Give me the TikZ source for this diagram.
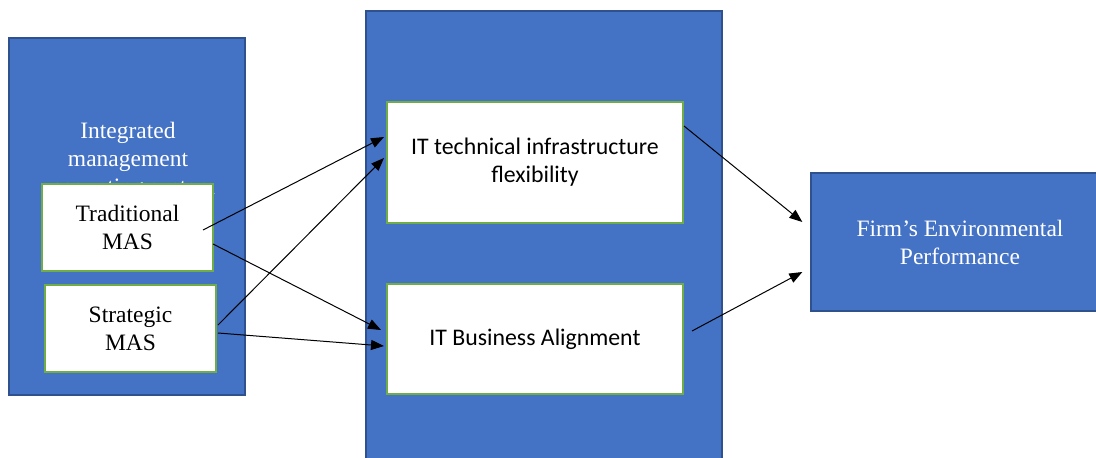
\documentclass[tikz,border=0pt]{standalone}
\usepackage{fontspec}
\setmainfont{Liberation Serif}
\newfontfamily\calibri{Carlito}
\usetikzlibrary{arrows.meta}

\definecolor{boxblue}{HTML}{4472C4}
\definecolor{edgeblue}{HTML}{2F528F}
\definecolor{boxgreen}{HTML}{70AD47}

\begin{document}
\begin{tikzpicture}[x=1pt,y=-1pt,
  outer/.style={draw=edgeblue, line width=1.3pt, fill=boxblue, inner sep=0pt},
  inner/.style={draw=boxgreen, line width=2pt, fill=white, inner sep=0pt, align=center},
  big/.style={font=\fontsize{23.5}{28}\selectfont},
  sans/.style={font=\calibri\fontsize{23.8}{28}\selectfont},
  arr/.style={-{Triangle[length=13pt,width=10pt]}, line width=1pt}]

  \useasboundingbox (0,0) rectangle (1096,458);

  % blue boxes
  \node[outer, minimum width=236pt, minimum height=357pt] (ims) at (127,216.5) {};
  \node[outer, minimum width=356pt, minimum height=460pt] (itbox) at (544,241) {};
  \node[outer, minimum width=298pt, minimum height=138pt, big, text=white,
    align=center] (firm) at (960,242) {Firm’s Environmental\\Performance};

  % title of the left box, partly hidden
  \node[big, text=white, align=center, anchor=north, inner sep=0pt] (imstitle)
    at (128,122) {Integrated\\management\\accounting system};

  % white boxes
  \node[inner, big, minimum width=171pt, minimum height=87pt] (trad)
    at (127.5,227.5) {Traditional\\MAS};
  \node[inner, big, minimum width=171pt, minimum height=87pt] (strat)
    at (130.5,328.5) {Strategic\\MAS};
  \node[inner, sans, minimum width=296pt, minimum height=121pt] (ittech)
    at (535,162.5) {IT technical infrastructure\\flexibility};
  \node[inner, sans, minimum width=296pt, minimum height=110pt] (itba)
    at (535,339) {IT Business Alignment};

  % arrows
  \draw[arr] ([xshift=-11pt,yshift=-2.5pt]trad.east) -- ([xshift=-2pt,yshift=25.5pt]ittech.west);
  \draw[arr] ([xshift=-1pt,yshift=-16.5pt]trad.east) -- ([xshift=-5pt,yshift=9pt]itba.west);
  \draw[arr] ([xshift=1pt,yshift=3.5pt]strat.east) -- ([xshift=-2pt,yshift=4.5pt]ittech.west);
  \draw[arr] ([xshift=1pt,yshift=-4.5pt]strat.east) -- ([xshift=-2pt,yshift=-7pt]itba.west);
  \draw[arr] ([yshift=36.5pt]ittech.east) -- ([xshift=-8pt,yshift=20pt]firm.west);
  \draw[arr] ([xshift=8pt,yshift=8pt]itba.east) -- ([xshift=-8pt,yshift=-30pt]firm.west);

\end{tikzpicture}
\end{document}
